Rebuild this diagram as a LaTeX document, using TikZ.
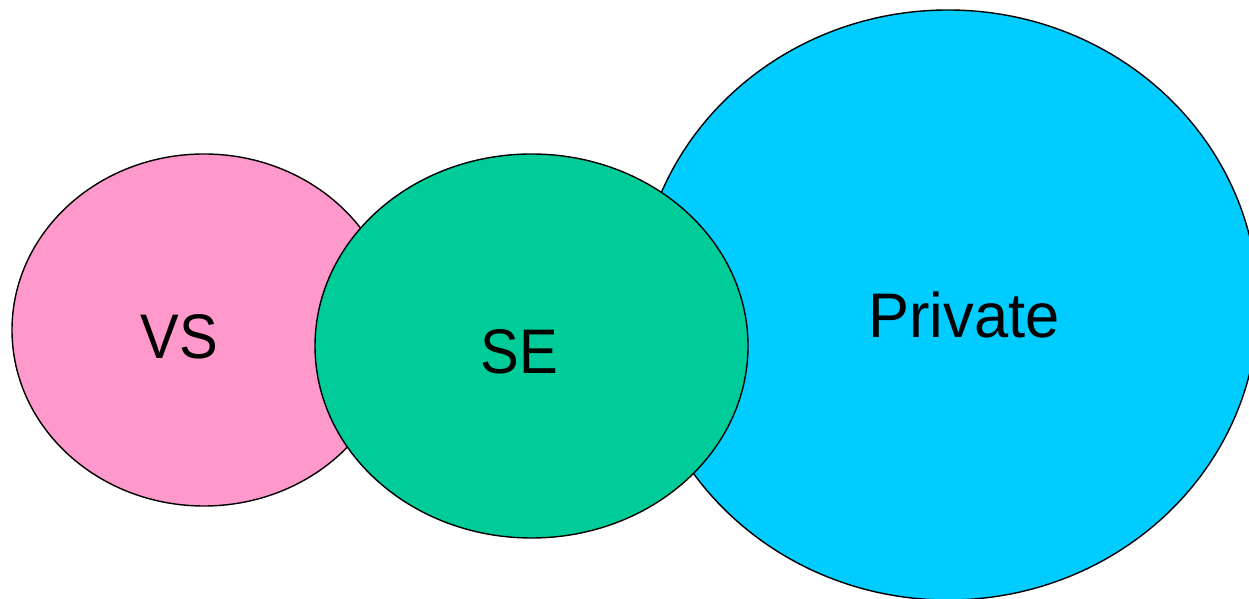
\documentclass[tikz,border=0pt]{standalone}
\usepackage{fontspec}
\setmainfont[FakeStretch=0.92]{Liberation Sans}
\definecolor{vspink}{HTML}{FF99CC}
\definecolor{segreen}{HTML}{00CC99}
\definecolor{prblue}{HTML}{00CCFF}
\tikzset{
  blob/.style={draw=black, line width=1.4pt},
  lbl/.style={font=\fontsize{63}{70}\selectfont, text=black, inner sep=0pt, anchor=base}
}
\begin{document}
\begin{tikzpicture}[x=1pt,y=1pt]
\useasboundingbox (0,0) rectangle (1249,599);
\clip (0,0) rectangle (1249,599);
\fill[white] (0,0) rectangle (1249,599);
\filldraw[blob, fill=vspink] (204,269) ellipse [x radius=192, y radius=176];
\filldraw[blob, fill=prblue] (948,294) ellipse [x radius=310, y radius=295];
\filldraw[blob, fill=segreen] (531.5,253) ellipse [x radius=216.5, y radius=192];
\node[lbl] (vs) at (179,240) {VS};
\node[lbl] (se) at (519.5,225) {SE};
\node[lbl, xscale=1.06] (pr) at (964,261) {Private};
\end{tikzpicture}
\end{document}
